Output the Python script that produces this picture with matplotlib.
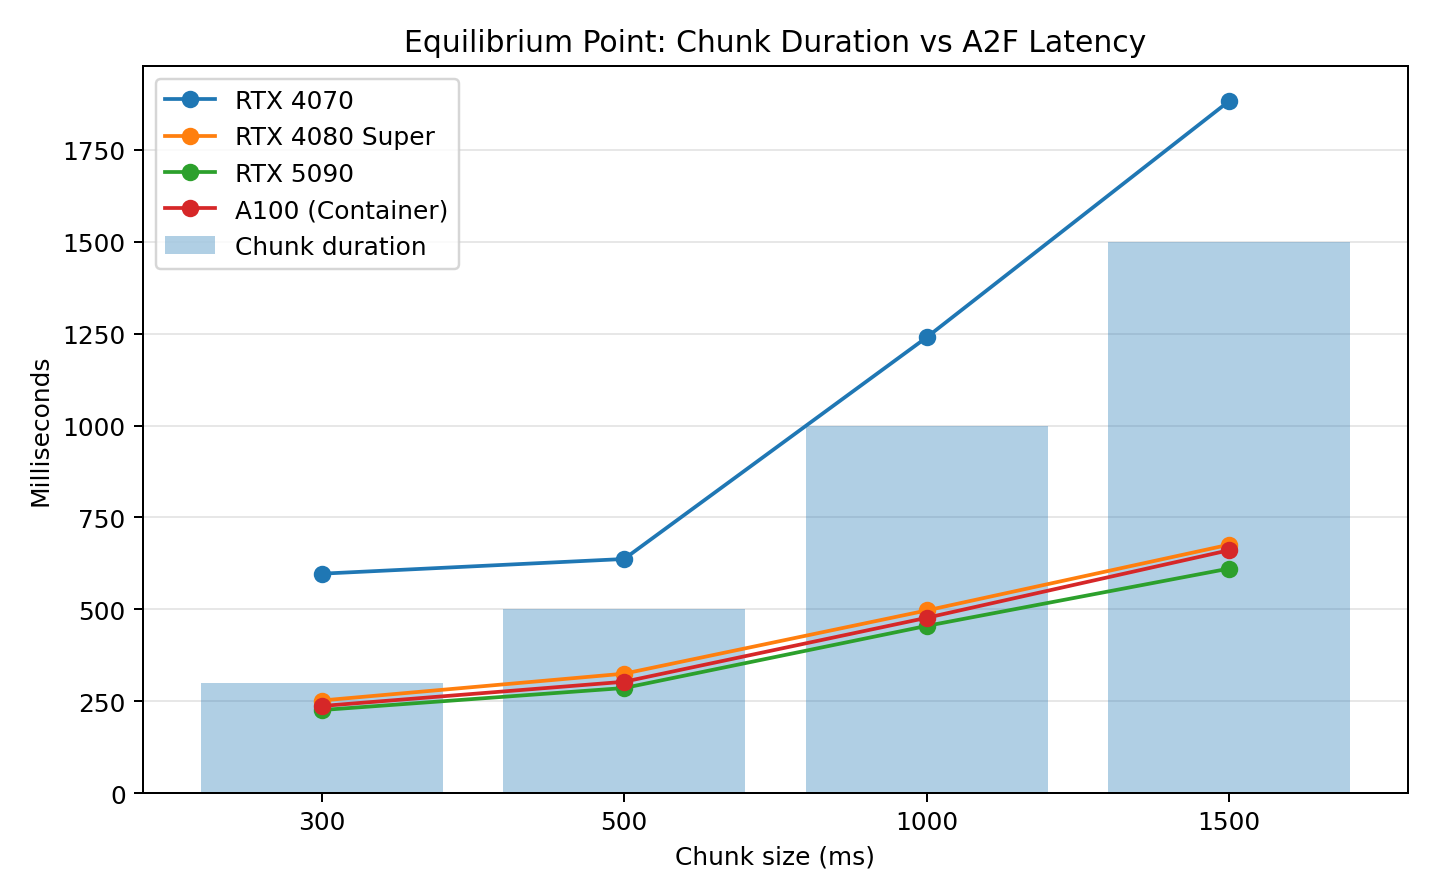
import matplotlib
matplotlib.use('Agg')
import matplotlib.pyplot as plt
import numpy as np

chunks = ['300', '500', '1000', '1500']
chunk_ms = [300, 500, 1000, 1500]
rtx4070 = [597, 637, 1240, 1883]
rtx4080s = [252, 325, 497, 676]
rtx5090 = [226, 286, 455, 611]
a100 = [237, 303, 477, 661]

x = np.arange(len(chunks))

fig, ax = plt.subplots(figsize=(8, 5), dpi=179.375)
ax.bar(x, chunk_ms, width=0.8, color='C0', alpha=0.35, label='Chunk duration')
ax.plot(x, rtx4070, marker='o', label='RTX 4070')
ax.plot(x, rtx4080s, marker='o', label='RTX 4080 Super')
ax.plot(x, rtx5090, marker='o', label='RTX 5090')
ax.plot(x, a100, marker='o', label='A100 (Container)')

ax.set_xticks(x)
ax.set_xticklabels(chunks)
ax.set_xlabel('Chunk size (ms)')
ax.set_ylabel('Milliseconds')
ax.set_title('Equilibrium Point: Chunk Duration vs A2F Latency')
ax.grid(axis='y', alpha=0.3)
ax.set_axisbelow(True)
ax.legend(loc='upper left')

fig.subplots_adjust(left=0.0997, right=0.981, top=0.925, bottom=0.1147)
fig.savefig('out.png')
